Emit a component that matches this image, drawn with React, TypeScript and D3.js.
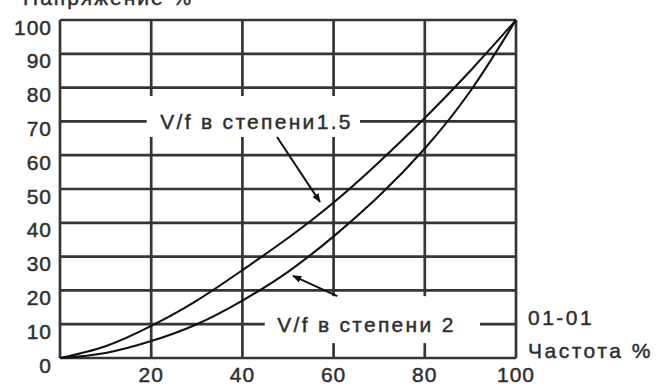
import * as d3 from 'd3';

// frequency %, read every 10%
const freq = [0, 10, 20, 30, 40, 50, 60, 70, 80, 90, 100];
// voltage % for V/f^1.5 and V/f^2 curves
const vf15 = [0, 3.5, 9.5, 17, 26, 35.5, 46, 58, 71, 85, 100];
const vf2 = [0, 1.5, 5, 10, 17, 25.5, 36, 48, 62, 79, 100];

const xTicks = [20, 40, 60, 80, 100];
const yTicks = [0, 10, 20, 30, 40, 50, 60, 70, 80, 90, 100];
const xGrid = [0, 20, 40, 60, 80, 100];

const W = 666;
const H = 386;
const left = 60, right = 516, top = 20, bottom = 358;

const FONT = '"Liberation Sans", Arial, sans-serif';
const GRID = '#353535';
const INK = '#2e2e2e';

// annotations in data units
const notes = [
  { text: 'V/f в степени1.5', cx: 43.1, cy: 70, x0: 19, x1: 65.8, yTop: 77.5, yBot: 65.4,
    arrow: [47.6, 65.4, 57.0, 46.2] },
  { text: 'V/f в степени 2', cx: 67.2, cy: 10, x0: 44.9, x1: 92.1, yTop: 18.3, yBot: 4.4,
    arrow: [60.8, 18.3, 51.1, 24.3] },
];

export default function App() {
  const x = d3.scaleLinear().domain([0, 100]).range([left, right]);
  const y = d3.scaleLinear().domain([0, 100]).range([bottom, top]);

  const line = d3
    .line<number>()
    .x((_, i) => x(freq[i]))
    .y((d) => y(d))
    .curve(d3.curveNatural);

  // slightly heavier text, like the scanned original
  const ink = { fill: INK, stroke: INK, strokeWidth: 0.45 };

  return (
    <svg
      width={W}
      height={H}
      style={{ position: 'absolute', left: 0, top: 0, background: '#fff' }}
      fontFamily={FONT}
    >
      <defs>
        <marker id="ah" viewBox="0 0 10 10" refX="9" refY="5" markerWidth="9" markerHeight="9"
          orient="auto" markerUnits="userSpaceOnUse">
          <path d="M0,1 L10,5 L0,9 Z" fill="#111" />
        </marker>
      </defs>

      {/* title, cut off at the top as in the original */}
      <text x={23} y={5} fontSize={21} letterSpacing={2} {...ink}>Напряжение %</text>

      {/* grid */}
      <g stroke={GRID} strokeWidth={2.7}>
        {yTicks.map((t) => (
          <line key={`h${t}`} x1={left} x2={right} y1={y(t)} y2={y(t)} />
        ))}
        {xGrid.map((t) => (
          <line key={`v${t}`} x1={x(t)} x2={x(t)} y1={top} y2={bottom} />
        ))}
      </g>

      {/* curves */}
      <g fill="none" stroke="#111" strokeWidth={2.1}>
        <path d={line(vf15) ?? ''} />
        <path d={line(vf2) ?? ''} />
      </g>

      {/* annotation labels */}
      {notes.map((n) => (
        <g key={n.text}>
          <rect x={x(n.x0)} y={y(n.yTop)} width={x(n.x1) - x(n.x0)} height={y(n.yBot) - y(n.yTop)}
            fill="#fff" />
          <text x={x(n.cx)} y={y(n.cy)} textAnchor="middle" dominantBaseline="central"
            fontSize={21} letterSpacing={2.3} {...ink}>{n.text}</text>
          <line x1={x(n.arrow[0])} y1={y(n.arrow[1])} x2={x(n.arrow[2])} y2={y(n.arrow[3])}
            stroke="#111" strokeWidth={2} markerEnd="url(#ah)" />
        </g>
      ))}

      {/* y tick labels */}
      {yTicks.map((t) => (
        <text key={`yl${t}`} x={left - 8} y={y(t) + 7} textAnchor="end" dominantBaseline="central"
          fontSize={21} letterSpacing={1} {...ink}>{t}</text>
      ))}

      {/* x tick labels */}
      {xTicks.map((t) => (
        <text key={`xl${t}`} x={x(t)} y={bottom + 24} textAnchor="middle"
          fontSize={21} letterSpacing={1} {...ink}>{t}</text>
      ))}

      <text x={right + 12} y={bottom - 33} fontSize={21} letterSpacing={2.5} {...ink}>01-01</text>
      <text x={right + 12} y={bottom} fontSize={21} letterSpacing={2.5} {...ink}>Частота %</text>
    </svg>
  );
}
